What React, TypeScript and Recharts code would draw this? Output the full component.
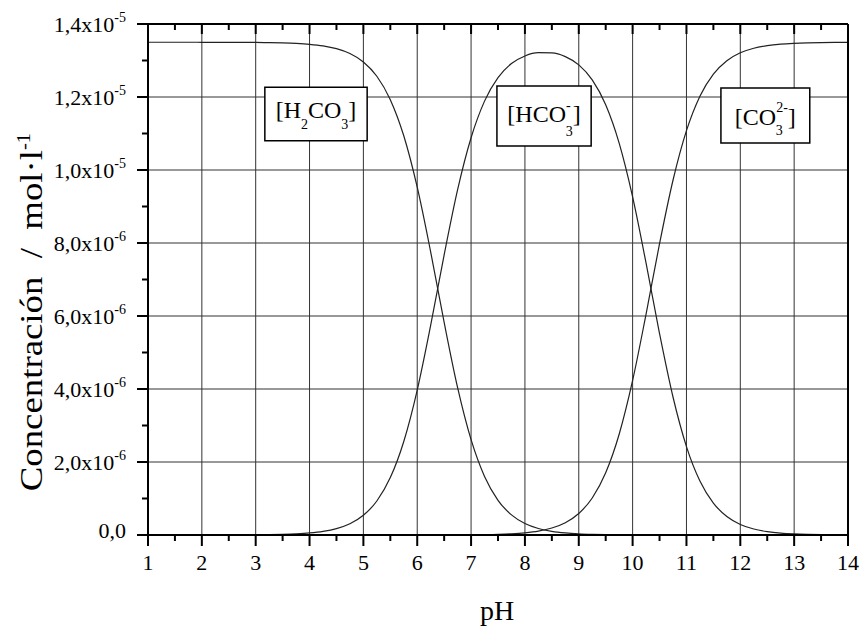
import { LineChart, Line, XAxis, YAxis, CartesianGrid, ReferenceArea } from "recharts";

// pH sampled every 0.25
const pH = [
  1, 1.25, 1.5, 1.75, 2, 2.25, 2.5, 2.75, 3, 3.25, 3.5, 3.75, 4, 4.25, 4.5, 4.75, 5, 5.25, 5.5, 5.75,
  6, 6.25, 6.5, 6.75, 7, 7.25, 7.5, 7.75, 8, 8.25, 8.5, 8.75, 9, 9.25, 9.5, 9.75, 10, 10.25, 10.5,
  10.75, 11, 11.25, 11.5, 11.75, 12, 12.25, 12.5, 12.75, 13, 13.25, 13.5, 13.75, 14,
];

// concentrations in units of 1e-6 mol/l
const h2co3 = [
  13.5, 13.5, 13.5, 13.5, 13.499, 13.498, 13.497, 13.496, 13.494, 13.49, 13.482, 13.468, 13.444,
  13.401, 13.324, 13.191, 12.96, 12.568, 11.928, 10.937, 9.528, 7.753, 5.823, 4.036, 2.611, 1.604,
  0.951, 0.551, 0.315, 0.178, 0.1, 0.056, 0.031, 0.017, 0.009, 0.005, 0.002, 0.001, 0, 0, 0, 0, 0,
  0, 0, 0, 0, 0, 0, 0, 0, 0, 0,
];
const hco3 = [
  0, 0, 0, 0, 0.001, 0.002, 0.002, 0.003, 0.006, 0.01, 0.018, 0.032, 0.056, 0.099, 0.176, 0.309,
  0.54, 0.932, 1.572, 2.563, 3.972, 5.747, 7.676, 9.461, 10.884, 11.887, 12.531, 12.916, 13.125,
  13.214, 13.209, 13.107, 12.88, 12.47, 11.788, 10.736, 9.263, 7.447, 5.52, 3.781, 2.423, 1.479,
  0.874, 0.506, 0.289, 0.164, 0.093, 0.052, 0.03, 0.017, 0.009, 0.005, 0.003,
];
const co3 = [
  0, 0, 0, 0, 0, 0, 0, 0, 0, 0, 0, 0, 0, 0, 0, 0, 0, 0, 0, 0, 0, 0, 0.001, 0.002, 0.005, 0.01,
  0.018, 0.033, 0.06, 0.107, 0.191, 0.337, 0.589, 1.014, 1.704, 2.76, 4.234, 6.053, 7.98, 9.719,
  11.077, 12.021, 12.626, 12.994, 13.211, 13.336, 13.407, 13.448, 13.47, 13.483, 13.491, 13.495,
  13.497,
];

const xTicks = [
  1, 1.5, 2, 2.5, 3, 3.5, 4, 4.5, 5, 5.5, 6, 6.5, 7, 7.5, 8, 8.5, 9, 9.5, 10, 10.5, 11, 11.5, 12,
  12.5, 13, 13.5, 14,
];
const yTicks = [0, 1, 2, 3, 4, 5, 6, 7, 8, 9, 10, 11, 12, 13, 14];
const xGrid = [2, 3, 4, 5, 6, 7, 8, 9, 10, 11, 12, 13];
const yGrid = [2, 4, 6, 8, 10, 12];
const yLabels: Record<number, [string, string]> = {
  0: ["0,0", ""],
  2: ["2,0x10", "-6"],
  4: ["4,0x10", "-6"],
  6: ["6,0x10", "-6"],
  8: ["8,0x10", "-6"],
  10: ["1,0x10", "-5"],
  12: ["1,2x10", "-5"],
  14: ["1,4x10", "-5"],
};

const data = pH.map((p, i) => ({ pH: p, h2co3: h2co3[i], hco3: hco3[i], co3: co3[i] }));

const FONT = "'Liberation Serif', 'Times New Roman', serif";

function BottomTick({ x, y, payload }: any) {
  const major = Number.isInteger(payload.value);
  return (
    <g>
      <line x1={x} x2={x} y1={y} y2={y + (major ? 11 : 6)} stroke="#000" strokeWidth={2} />
      {major && (
        <text x={x} y={y + 35} textAnchor="middle" fontSize={22} fontFamily={FONT} fill="#000">
          {payload.value}
        </text>
      )}
    </g>
  );
}

function TopTick({ x, y, payload }: any) {
  const major = Number.isInteger(payload.value);
  return <line x1={x} x2={x} y1={y} y2={y + (major ? 10 : 6)} stroke="#000" strokeWidth={2} />;
}

function LeftTick({ x, y, payload }: any) {
  const v = payload.value;
  const major = v % 2 === 0;
  const lab = yLabels[v];
  return (
    <g>
      <line x1={x - (major ? 11 : 6)} x2={x} y1={y} y2={y} stroke="#000" strokeWidth={2} />
      {major && lab && (
        <text x={x - 22} y={y + (v === 0 ? 3 : 8)} textAnchor="end" fontSize={22} fontFamily={FONT} fill="#000">
          {lab[0]}
          {lab[1] && (
            <tspan dy={-10} fontSize={14}>
              {lab[1]}
            </tspan>
          )}
        </text>
      )}
    </g>
  );
}

function RightTick({ x, y, payload }: any) {
  const major = payload.value % 2 === 0;
  return <line x1={x} x2={x - (major ? 10 : 6)} y1={y} y2={y} stroke="#000" strokeWidth={2} />;
}

function boxLabel(kind: string, base: number) {
  return ({ viewBox }: any) => {
    const cx = viewBox.x + viewBox.width / 2;
    const by = viewBox.y + base;
    const common = { x: cx, y: by, textAnchor: "middle" as const, fontSize: 24, fontFamily: FONT, fill: "#000" };
    if (kind === "h2co3")
      return (
        <text {...common}>
          [H<tspan dy={11} fontSize={14}>2</tspan>
          <tspan dy={-11}>CO</tspan>
          <tspan dy={11} fontSize={14}>3</tspan>
          <tspan dy={-11}>]</tspan>
        </text>
      );
    if (kind === "hco3")
      return (
        <text {...common}>
          [HCO<tspan dy={-12} fontSize={14}>-</tspan>
          <tspan dx={-5} dy={26} fontSize={14}>3</tspan>
          <tspan dy={-14}>]</tspan>
        </text>
      );
    return (
      <text {...common}>
        [CO<tspan dy={-13} fontSize={14}>2-</tspan>
        <tspan dx={-12} dy={23} fontSize={14}>3</tspan>
        <tspan dx={5} dy={-10}>]</tspan>
      </text>
    );
  };
}

export default function App() {
  return (
    <div style={{ position: "absolute", left: 0, top: 0, background: "#fff" }}>
      <LineChart width={861} height={633} data={data} margin={{ top: 0, right: 0, bottom: 0, left: 0 }}>
        <CartesianGrid verticalValues={xGrid} horizontalValues={yGrid} stroke="#333" strokeWidth={1} />
        <XAxis
          dataKey="pH"
          type="number"
          domain={[1, 14]}
          ticks={xTicks}
          interval={0}
          height={98}
          tickSize={0}
          tickMargin={0}
          tickLine={false}
          tick={BottomTick}
          axisLine={{ stroke: "#000", strokeWidth: 2 }}
          label={({ viewBox }: any) => (
            <text x={497} y={viewBox.y + 85} textAnchor="middle" fontSize={28} fontFamily={FONT} fill="#000">
              pH
            </text>
          )}
        />
        <XAxis
          xAxisId="top"
          orientation="top"
          dataKey="pH"
          type="number"
          domain={[1, 14]}
          ticks={xTicks}
          interval={0}
          height={24}
          tickSize={0}
          tickMargin={0}
          tickLine={false}
          tick={TopTick}
          axisLine={{ stroke: "#000", strokeWidth: 2 }}
        />
        <YAxis
          type="number"
          domain={[0, 14]}
          ticks={yTicks}
          interval={0}
          width={148}
          tickSize={0}
          tickMargin={0}
          tickLine={false}
          tick={LeftTick}
          axisLine={{ stroke: "#000", strokeWidth: 2 }}
          label={() => (
            <text
              transform="translate(42, 312) rotate(-90) scale(1.15, 1)"
              textAnchor="middle"
              fontSize={32}
              fontFamily={FONT}
              fill="#000"
            >
              {"Concentración\u00A0\u00A0/\u00A0\u00A0mol·l"}
              <tspan dy={-12} fontSize={18}>-1</tspan>
            </text>
          )}
        />
        <YAxis
          yAxisId="right"
          orientation="right"
          type="number"
          domain={[0, 14]}
          ticks={yTicks}
          interval={0}
          width={13}
          tickSize={0}
          tickMargin={0}
          tickLine={false}
          tick={RightTick}
          axisLine={{ stroke: "#000", strokeWidth: 2 }}
        />
        <Line dataKey="h2co3" type="monotone" stroke="#222" strokeWidth={1.2} dot={false} isAnimationActive={false} />
        <Line dataKey="hco3" type="monotone" stroke="#222" strokeWidth={1.2} dot={false} isAnimationActive={false} />
        <Line dataKey="co3" type="monotone" stroke="#222" strokeWidth={1.2} dot={false} isAnimationActive={false} />
        <ReferenceArea x1={3.17} x2={5.07} y1={10.8} y2={12.27} fill="#fff" fillOpacity={1} stroke="#000" strokeWidth={1.5} label={boxLabel("h2co3", 31)} />
        <ReferenceArea x1={7.48} x2={9.23} y1={10.66} y2={12.3} fill="#fff" fillOpacity={1} stroke="#000" strokeWidth={1.5} label={boxLabel("hco3", 36)} />
        <ReferenceArea x1={11.64} x2={13.29} y1={10.74} y2={12.25} fill="#fff" fillOpacity={1} stroke="#000" strokeWidth={1.5} label={boxLabel("co3", 37)} />
      </LineChart>
    </div>
  );
}
